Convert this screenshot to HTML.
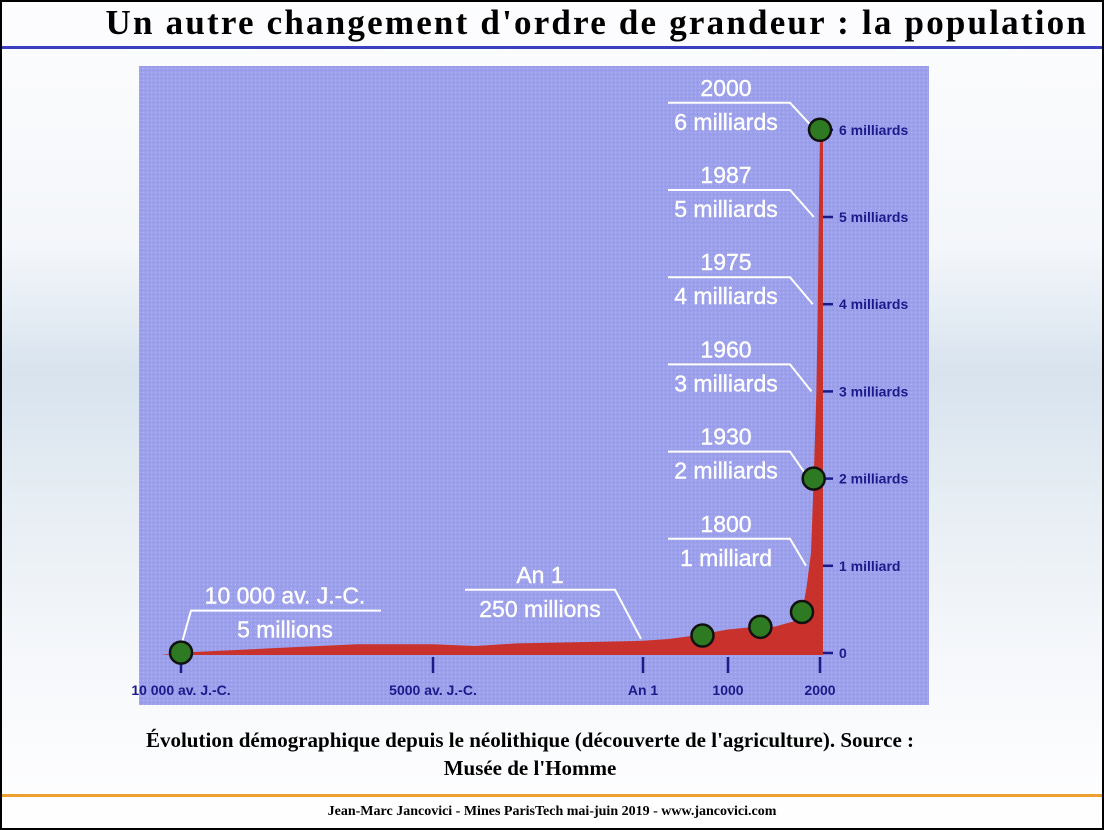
<!DOCTYPE html>
<html><head><meta charset="utf-8"><style>
html,body{margin:0;padding:0}
body{width:1104px;height:830px;position:relative;overflow:hidden;font-family:"Liberation Serif",serif;
background:linear-gradient(180deg,#fdfdfe 0%,#f3f6fa 30%,#d8e3ee 45%,#e6edf3 60%,#f6f8fb 80%,#fff 100%);}
#frame{position:absolute;left:0;top:0;width:1100px;height:826px;border:2px solid #000;}
#title{position:absolute;right:16px;top:3px;font-size:35px;font-weight:bold;letter-spacing:2.2px;color:#000;white-space:nowrap}
#tline{position:absolute;left:2px;top:46px;width:1100px;height:3px;background:#3a3fc0}
#cap{position:absolute;left:30px;top:726px;width:1000px;font-size:21px;font-weight:bold;text-align:center;line-height:28px}
#oline{position:absolute;left:2px;top:794px;width:1100px;height:3px;background:#f0a030}
#foot{position:absolute;left:0;top:804px;width:1104px;text-align:center;font-size:14px;font-weight:bold}
svg{position:absolute;left:0;top:0}
</style></head><body>
<div id="frame"></div>
<div id="title">Un autre changement d'ordre de grandeur : la population</div>
<div id="tline"></div>
<svg id="chart" width="1104" height="830">
<defs><pattern id="dots" width="4" height="4" patternUnits="userSpaceOnUse"><rect width="4" height="4" fill="#9da0ea"/><rect x="1" y="2" width="1" height="1" fill="#8c90d8"/><rect x="3" y="0" width="1" height="1" fill="#afb2f2"/></pattern></defs>
<rect x="139" y="66" width="790" height="639" fill="url(#dots)"/>
<g id="g"></g>
</svg>
<div id="cap">Évolution démographique depuis le néolithique (découverte de l'agriculture). Source :<br>Musée de l'Homme</div>
<div id="oline"></div>
<div id="foot">Jean-Marc Jancovici - Mines ParisTech mai-juin 2019 - www.jancovici.com</div>
<script>
const areaYears=[-10000,-8000,-6500,-5000,-4000,-3000,-1000,0,300,600,1000,1300,1500,1700,1800,1850,1900,1930,1960,1975,1987,2000];
const areaPop=[0.005,0.06,0.1,0.1,0.08,0.11,0.13,0.14,0.16,0.2,0.27,0.3,0.3,0.36,0.47,0.75,1.15,2,3,4,5,6];
const dotYears=[-10000,700,1350,1800,1930,2000];
const dotPop=[0.005,0.2,0.3,0.47,2,6];
const yTicks=[0,1,2,3,4,5,6];
const yTickLabels=["0","1 milliard","2 milliards","3 milliards","4 milliards","5 milliards","6 milliards"];
const xTicks=[-10000,-5000,0,1000,2000];
const xTickLabels=["10 000 av. J.-C.","5000 av. J.-C.","An 1","1000","2000"];
const calloutYears=["2000","1987","1975","1960","1930","1800","An 1","10 000 av. J.-C."];
const calloutValues=["6 milliards","5 milliards","4 milliards","3 milliards","2 milliards","1 milliard","250 millions","5 millions"];
const calloutX=[2000,1987,1975,1960,1930,1800,0,-10000];
const calloutP=[6,5,4,3,2,1,0.14,0.005];

const xb=[-10000,-5000,0,1000,1800,2000], xp=[181,433,643,728,802,820];
function X(v){for(let i=0;i<xb.length-1;i++){if(v<=xb[i+1]){return xp[i]+(v-xb[i])/(xb[i+1]-xb[i])*(xp[i+1]-xp[i]);}}return xp[xp.length-1];}
function Y(v){return 653-v*87.2;}
const NS='http://www.w3.org/2000/svg', g=document.getElementById('g');
function mk(t,a,txt){const e=document.createElementNS(NS,t);for(const k in a)e.setAttribute(k,a[k]);if(txt!==undefined)e.textContent=txt;g.appendChild(e);return e;}

let d='M'+(X(-10000)-20)+','+(Y(0)+2);
areaYears.forEach((yr,i)=>{d+=' L'+X(yr).toFixed(1)+','+Y(areaPop[i]).toFixed(1);});
d+=' L'+(X(2000)+3)+','+Y(areaPop[areaPop.length-1]).toFixed(1)+' L'+(X(2000)+3)+','+(Y(0)+2)+' Z';
const area=mk('path',{d:d,fill:'#c8312c'});



yTicks.forEach((v,i)=>{
 const l=mk('line',{x1:X(2000)+3,x2:X(2000)+13,y1:Y(v),y2:Y(v),stroke:'#1a1a8a','stroke-width':2.5});
 
 
 const t=mk('text',{x:X(2000)+19,y:Y(v)+5,fill:'#1a1a8a','font-size':14,'font-family':'Liberation Sans, sans-serif','font-weight':'bold'},yTickLabels[i]);
 
 
});
xTicks.forEach((v,i)=>{
 const l=mk('line',{x1:X(v),x2:X(v),y1:Y(0)+4,y2:Y(0)+20,stroke:'#1a1a8a','stroke-width':2.5});
 
 
 const t=mk('text',{x:X(v),y:Y(0)+42,fill:'#1a1a8a','font-size':14,'font-family':'Liberation Sans, sans-serif','font-weight':'bold','text-anchor':'middle'},xTickLabels[i]);
 
 
});
calloutYears.forEach((lab,i)=>{
 const px=X(calloutX[i]), py=Y(calloutP[i]);
 let cx,ly,x1,x2,path;
 if(i<6){cx=726;ly=py-27;x1=cx-58;x2=cx+64;path=`M${x1},${ly} L${x2},${ly} L${px-5+(i==5?9:0)},${py}`;}
 else if(i==6){cx=px-103;ly=py-51;x1=px-178;x2=px-28;path=`M${x1},${ly} L${x2},${ly} L${px-2},${py-2}`;}
 else{cx=px+104;ly=py-42;x1=px+10;x2=px+200;path=`M${x2},${ly} L${x1},${ly} L${px+1},${py-10}`;}
 const p=mk('path',{d:path,fill:'none',stroke:'#fff','stroke-width':2});
 
 
 const a=mk('text',{x:cx,y:ly-7,fill:'#fff','font-size':23,'font-family':'Liberation Sans, sans-serif','text-anchor':'middle','stroke':'#fff','stroke-width':0.4},lab);
 
 
 const b=mk('text',{x:cx,y:ly+27,fill:'#fff','font-size':23,'font-family':'Liberation Sans, sans-serif','text-anchor':'middle','stroke':'#fff','stroke-width':0.4},calloutValues[i]);
 
 
});
dotYears.forEach((yr,i)=>{
 const c=mk('circle',{cx:X(yr),cy:Y(dotPop[i]),r:11,fill:'#2e7a22',stroke:'#111','stroke-width':2.5});
 
 
});
</script>
</body></html>
